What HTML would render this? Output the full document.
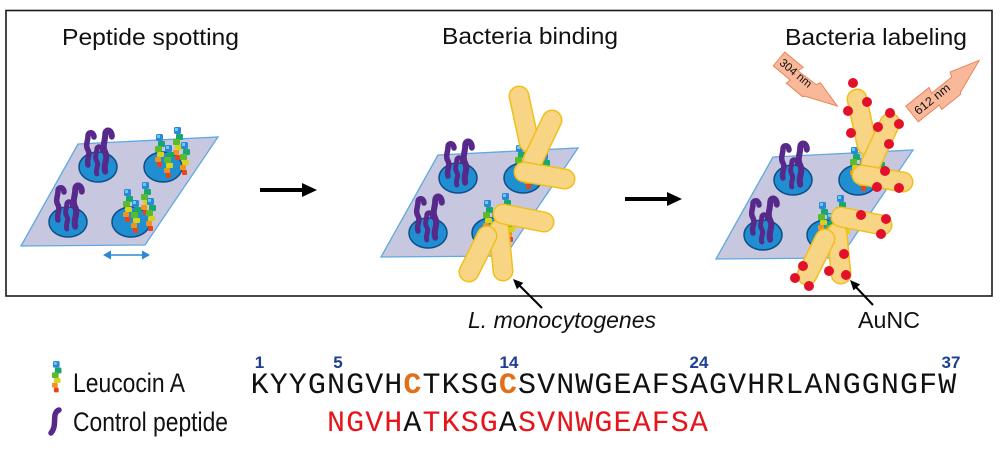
<!DOCTYPE html>
<html>
<head>
<meta charset="utf-8">
<style>
  html,body{margin:0;padding:0;background:#fff;}
  svg{display:block;}
</style>
</head>
<body>
<svg width="1000" height="450" viewBox="0 0 1000 450" xmlns="http://www.w3.org/2000/svg" xmlns:xlink="http://www.w3.org/1999/xlink">
  <defs>
    <path id="sq" d="M8,5 C8,0 2,-1 2,4 C2,9 -1,13 2,18 C5,23 0,27 2,33" fill="none" stroke="#57298a" stroke-width="5.5" stroke-linecap="round"/>
    <g id="st">
      <rect x="1" y="0" width="7" height="7" rx="1.5" fill="#2d86d8"/>
      <rect x="2" y="1" width="3" height="3" fill="#5fd0f5"/>
      <rect x="3" y="7" width="7" height="6" rx="1" fill="#17a86e"/>
      <rect x="0" y="12" width="7" height="6" rx="1" fill="#5cba2e"/>
      <rect x="2" y="18" width="7" height="5" rx="1" fill="#d4d41c"/>
      <rect x="0" y="23" width="6" height="5" rx="1" fill="#f39221"/>
      <rect x="2" y="28" width="5" height="5" rx="1" fill="#e8441e"/>
    </g>
    <g id="plate">
      <polygon points="78,144 218,137 145,245 21,246" fill="#c7c7df" stroke="#5ea9e2" stroke-width="1.3"/>
      <ellipse cx="98" cy="167" rx="19" ry="15" fill="#1f8fd2" stroke="#0f4d86" stroke-width="1.5"/>
      <ellipse cx="163" cy="167" rx="19" ry="15" fill="#1f8fd2" stroke="#0f4d86" stroke-width="1.5"/>
      <ellipse cx="68" cy="222" rx="19" ry="15" fill="#1f8fd2" stroke="#0f4d86" stroke-width="1.5"/>
      <ellipse cx="131" cy="222" rx="19" ry="15" fill="#1f8fd2" stroke="#0f4d86" stroke-width="1.5"/>
      <!-- purple peptides -->
      <use href="#sq" xlink:href="#sq" transform="translate(86,132)"/>
      <use href="#sq" xlink:href="#sq" transform="translate(103,130) scale(1.1,1.25)"/>
      <use href="#sq" xlink:href="#sq" transform="translate(95,146) scale(0.9,0.85)"/>
      <use href="#sq" xlink:href="#sq" transform="translate(56,187)"/>
      <use href="#sq" xlink:href="#sq" transform="translate(73,185) scale(1.1,1.25)"/>
      <use href="#sq" xlink:href="#sq" transform="translate(65,201) scale(0.9,0.85)"/>
      <!-- leucocin stacks -->
      <use href="#st" xlink:href="#st" transform="translate(155,134)"/>
      <use href="#st" xlink:href="#st" transform="translate(173,127)"/>
      <use href="#st" xlink:href="#st" transform="translate(164,145)"/>
      <use href="#st" xlink:href="#st" transform="translate(180,142)"/>
      <use href="#st" xlink:href="#st" transform="translate(123,189)"/>
      <use href="#st" xlink:href="#st" transform="translate(141,182)"/>
      <use href="#st" xlink:href="#st" transform="translate(131,200)"/>
      <use href="#st" xlink:href="#st" transform="translate(146,198)"/>
    </g>
    <g id="bac" stroke-linecap="round">
      <line x1="519" y1="96" x2="529" y2="142" stroke="#f0c01a" stroke-width="21"/>
      <line x1="519" y1="96" x2="529" y2="142" stroke="#f8d585" stroke-width="18"/>
      <line x1="552" y1="120" x2="533" y2="160" stroke="#f0c01a" stroke-width="21"/>
      <line x1="552" y1="120" x2="533" y2="160" stroke="#f8d585" stroke-width="18"/>
      <line x1="524" y1="172" x2="565" y2="179" stroke="#f0c01a" stroke-width="21"/>
      <line x1="524" y1="172" x2="565" y2="179" stroke="#f8d585" stroke-width="18"/>
      <line x1="499" y1="230" x2="503" y2="271" stroke="#f0c01a" stroke-width="21"/>
      <line x1="499" y1="230" x2="503" y2="271" stroke="#f8d585" stroke-width="18"/>
      <line x1="487" y1="236" x2="469" y2="272" stroke="#f0c01a" stroke-width="21"/>
      <line x1="487" y1="236" x2="469" y2="272" stroke="#f8d585" stroke-width="18"/>
      <line x1="503" y1="214" x2="544" y2="222" stroke="#f0c01a" stroke-width="21"/>
      <line x1="503" y1="214" x2="544" y2="222" stroke="#f8d585" stroke-width="18"/>
    </g>
  </defs>

  <!-- frame -->
  <rect x="6" y="10.5" width="986" height="285.5" fill="none" stroke="#1a1a1a" stroke-width="1.6"/>

  <!-- titles -->
  <g font-family="Liberation Sans, Arial, sans-serif" fill="#111">
    <text x="62" y="45" font-size="23" textLength="177" lengthAdjust="spacingAndGlyphs">Peptide spotting</text>
    <text x="442" y="44" font-size="23" textLength="176" lengthAdjust="spacingAndGlyphs">Bacteria binding</text>
    <text x="785" y="45" font-size="23" textLength="182" lengthAdjust="spacingAndGlyphs">Bacteria labeling</text>
  </g>

  <!-- panel 1 -->
  <use href="#plate" xlink:href="#plate"/>
  <!-- double arrow -->
  <line x1="110" y1="255" x2="143" y2="255" stroke="#2a8ad4" stroke-width="1.5"/>
  <polygon points="103,255 111,250.5 111,259.5" fill="#2a8ad4"/>
  <polygon points="150,255 142,250.5 142,259.5" fill="#2a8ad4"/>

  <!-- arrow 1 -->
  <line x1="260" y1="190" x2="305" y2="190" stroke="#000" stroke-width="4"/>
  <polygon points="302,183 317,190 302,197" fill="#000"/>

  <!-- panel 2 -->
  <use href="#plate" xlink:href="#plate" transform="translate(360,11)"/>
  <use href="#bac" xlink:href="#bac"/>

  <!-- arrow 2 -->
  <line x1="625" y1="199" x2="670" y2="199" stroke="#000" stroke-width="4"/>
  <polygon points="667,192 682,199 667,206" fill="#000"/>

  <!-- panel 3 -->
  <use href="#plate" xlink:href="#plate" transform="translate(695,13)"/>
  <use href="#bac" xlink:href="#bac" transform="translate(338,3)"/>
  <g fill="#e2102a">
    <circle cx="853" cy="83" r="5"/>
    <circle cx="867" cy="102" r="5"/>
    <circle cx="848" cy="111" r="5"/>
    <circle cx="851" cy="133" r="5"/>
    <circle cx="890" cy="113" r="5"/>
    <circle cx="899" cy="124" r="5"/>
    <circle cx="878" cy="127" r="5"/>
    <circle cx="889" cy="144" r="5"/>
    <circle cx="885" cy="171" r="5"/>
    <circle cx="877" cy="187" r="5"/>
    <circle cx="899" cy="188" r="5"/>
    <circle cx="861" cy="215" r="5"/>
    <circle cx="886" cy="219" r="5"/>
    <circle cx="881" cy="234" r="5"/>
    <circle cx="844" cy="254" r="5"/>
    <circle cx="829" cy="271" r="5"/>
    <circle cx="846" cy="275" r="5"/>
    <circle cx="803" cy="266" r="5"/>
    <circle cx="795" cy="278" r="5"/>
    <circle cx="809" cy="286" r="5"/>
  </g>

  <!-- lightning bolts -->
  <g transform="translate(779,59) rotate(39.6)">
    <polygon points="0,-9 24,-9 22,-3 45,-4 47,-8 75,-1 44,12 42,14 21,14 22,9 0,9" fill="#f9b899" stroke="#ec8458" stroke-width="1"/>
    <text x="3" y="4" font-family="Liberation Sans, Arial, sans-serif" font-size="11.5" textLength="38" lengthAdjust="spacingAndGlyphs" fill="#111">304 nm</text>
  </g>
  <g transform="translate(912,114) rotate(-38.6)">
    <polygon points="0,-10 30,-10 28,-4 54,-4 56,-9 86,0 52,13 50,15 26,15 27,10 0,10" fill="#f9b899" stroke="#ec8458" stroke-width="1"/>
    <text x="4" y="5" font-family="Liberation Sans, Arial, sans-serif" font-size="12" textLength="42" lengthAdjust="spacingAndGlyphs" fill="#111">612 nm</text>
  </g>

  <!-- pointer arrows -->
  <line x1="542" y1="308" x2="518" y2="284" stroke="#000" stroke-width="2"/>
  <polygon points="513,279 523.3,282.9 516.9,289.3" fill="#000"/>
  <line x1="873" y1="305" x2="854" y2="285" stroke="#000" stroke-width="2"/>
  <polygon points="850,280 860.1,284.4 853.5,290.4" fill="#000"/>

  <g font-family="Liberation Sans, Arial, sans-serif" fill="#111">
    <text x="468" y="328" font-size="23" font-style="italic" textLength="188" lengthAdjust="spacingAndGlyphs">L. monocytogenes</text>
    <text x="858" y="328" font-size="23" textLength="62" lengthAdjust="spacingAndGlyphs">AuNC</text>
  </g>

  <!-- legend -->
  <use href="#st" xlink:href="#st" transform="translate(52,361) scale(0.95)"/>
  <path d="M59,410 C51,413 58,425 51,433" fill="none" stroke="#57298a" stroke-width="5.5" stroke-linecap="round"/>
  <g font-family="Liberation Sans, Arial, sans-serif" fill="#111">
    <text x="73" y="392" font-size="27" textLength="112" lengthAdjust="spacingAndGlyphs">Leucocin A</text>
    <text x="73" y="431" font-size="27" textLength="155" lengthAdjust="spacingAndGlyphs">Control peptide</text>
  </g>

  <!-- residue numbers -->
  <g font-family="Liberation Sans, Arial, sans-serif" font-weight="bold" font-size="17" fill="#1c3f94" text-anchor="middle">
    <text x="259.5" y="368">1</text>
    <text x="338" y="368">5</text>
    <text x="509" y="368">14</text>
    <text x="699" y="368">24</text>
    <text x="951" y="368">37</text>
  </g>

  <!-- sequences -->
  <g font-family="Liberation Mono, Courier New, monospace" font-size="30" text-anchor="middle">
    <text y="393" fill="#111"><tspan x="259.6 278.7 297.8 316.9 336.0 355.1 374.2 393.3">KYYGNGVH</tspan><tspan x="412.4" fill="#e2701a" font-weight="bold">C</tspan><tspan x="431.5 450.6 469.7 488.8">TKSG</tspan><tspan x="507.9" fill="#e2701a" font-weight="bold">C</tspan><tspan x="527.0 546.1 565.2 584.3 603.4 622.5 641.6 660.7 679.8 698.9 718.0 737.1 756.2 775.3 794.4 813.5 832.6 851.7 870.8 889.9 909.0 928.1 947.2">SVNWGEAFSAGVHRLANGGNGFW</tspan></text>
    <text y="431" fill="#e8141c"><tspan x="336.0 355.1 374.2 393.3">NGVH</tspan><tspan x="412.4" fill="#111">A</tspan><tspan x="431.5 450.6 469.7 488.8">TKSG</tspan><tspan x="507.9" fill="#111">A</tspan><tspan x="527.0 546.1 565.2 584.3 603.4 622.5 641.6 660.7 679.8 698.9">SVNWGEAFSA</tspan></text>
  </g>
</svg>
</body>
</html>
